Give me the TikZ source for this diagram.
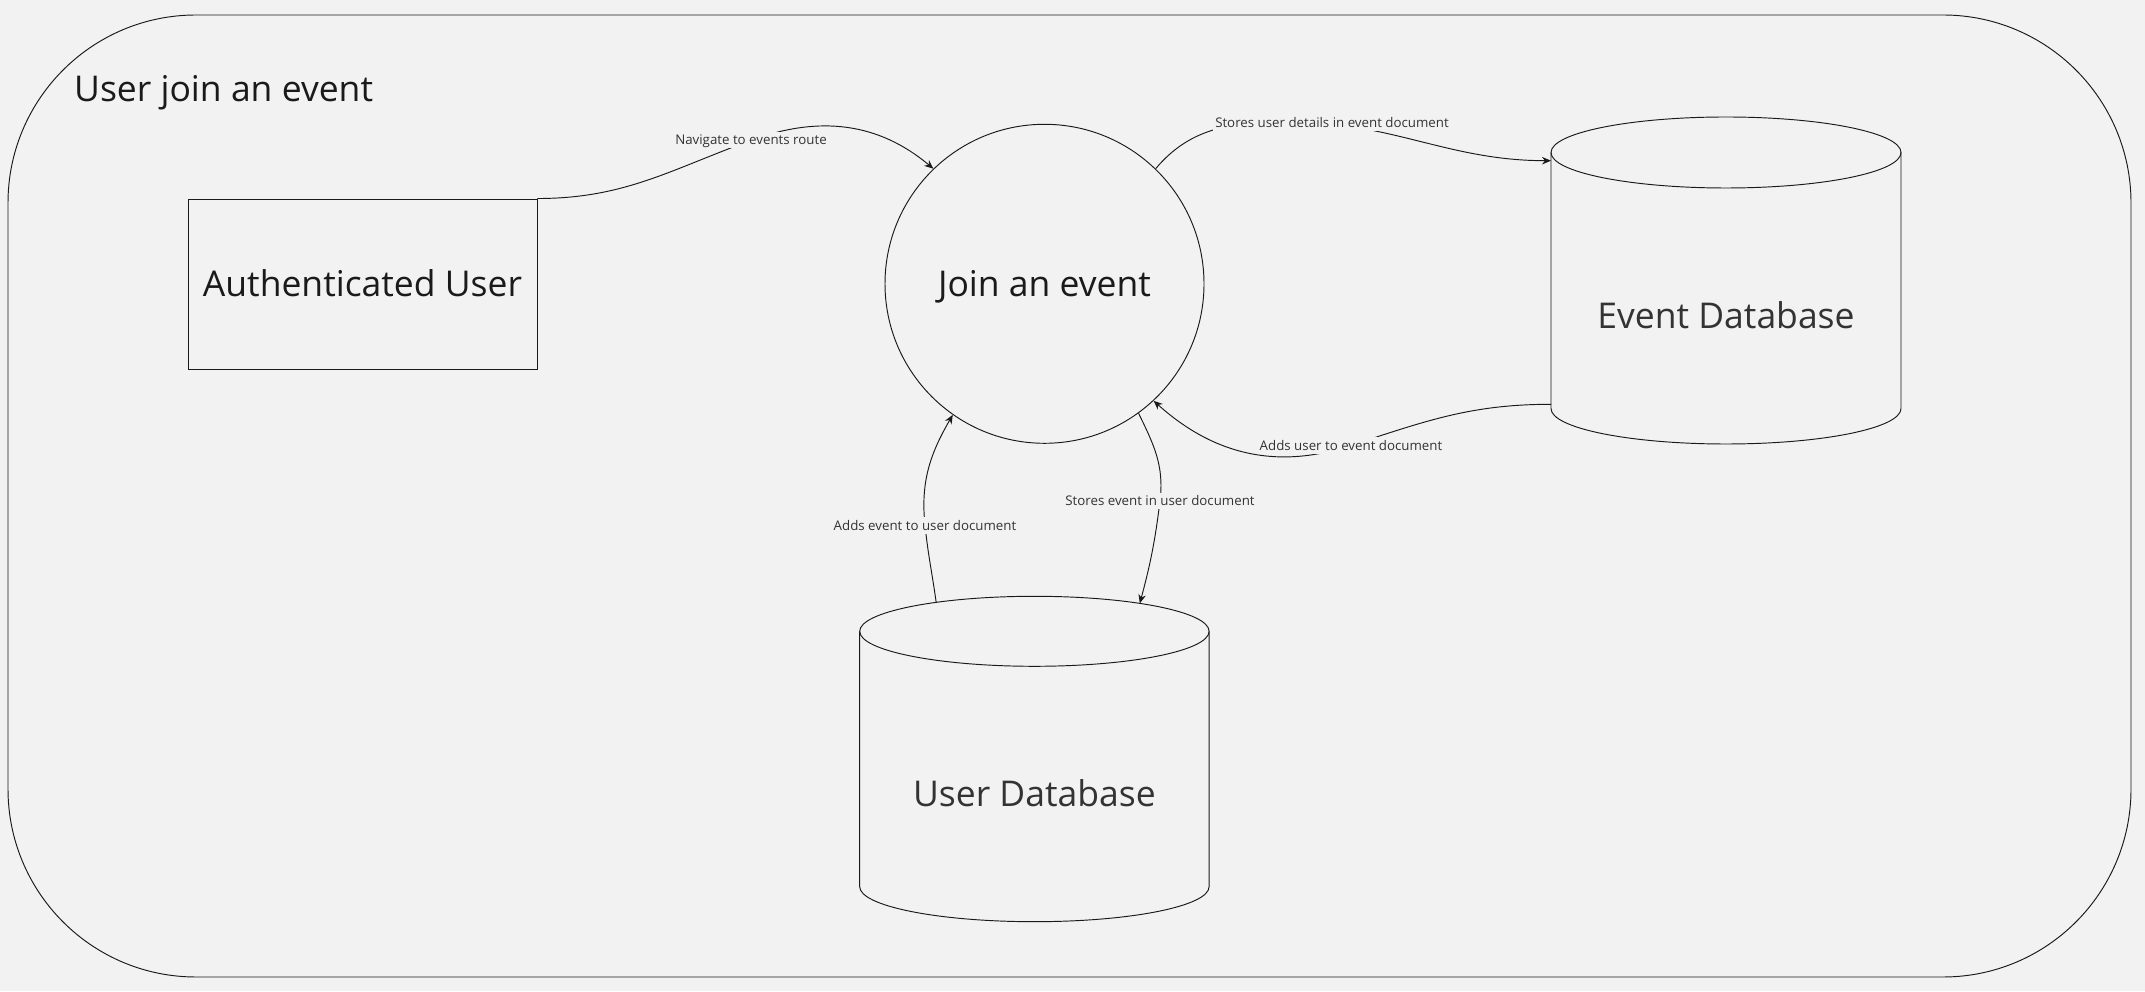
\documentclass[tikz,border=0pt]{standalone}
\usepackage{fontspec}
\setmainfont{Open Sans}
\usetikzlibrary{arrows.meta,calc}
\definecolor{bg}{HTML}{F2F2F2}
\definecolor{ink}{HTML}{1A1A1A}
\definecolor{inkb}{HTML}{333333}
\begin{document}
\begin{tikzpicture}[x=1pt,y=1pt,
  line/.style={draw=ink, line width=0.95pt},
  arr/.style={line, -{Stealth[length=9pt,width=7.5pt]}},
  lbl/.style={fill=bg, text=inkb, font=\fontsize{13.3}{16}\selectfont,
    text height=9.5pt, text depth=0pt, inner xsep=2pt, inner ysep=3.5pt},
  big/.style={font=\fontsize{35.5}{42}\selectfont, text height=25.3pt, text depth=0pt, inner sep=0pt}]
\fill[bg] (0,0) rectangle (2145,991);
\useasboundingbox (0,0) rectangle (2145,991);
% frame
\node[line, rounded corners=188pt, minimum width=2123pt, minimum height=962pt] (frame) at (1069.5,495) {};
\node[font=\fontsize{35.5}{42}\selectfont, text=ink, anchor=base west, inner sep=0pt] (title) at (74,889) {User join an event};
% process nodes
\node[line, big, text=ink, minimum width=349pt, minimum height=170pt] (A) at (362.5,707) {Authenticated User};
\node[line, big, text=ink, circle, minimum size=319pt] (J) at (1044.5,707.2) {Join an event};
% Event database
\node[big, text=inkb] (E) at (1726,675) {Event Database};
\draw[line] (1551,838.5) -- (1551,582.5) arc[start angle=180,end angle=360,x radius=175,y radius=35.5] -- (1901,838.5);
\draw[line] (1726,838.5) ellipse[x radius=175, y radius=35.5];
\coordinate (Ein) at (1551,830.3);
\coordinate (Eout) at (1551,586.7);
% User database
\node[big, text=inkb] (U) at (1034.4,197) {User Database};
\draw[line] (859.7,359.7) -- (859.7,104.3) arc[start angle=180,end angle=360,x radius=174.7,y radius=35] -- (1209.1,359.7);
\draw[line] (1034.4,359.7) ellipse[x radius=174.7, y radius=35];
\coordinate (uin) at (1139.8,387.6);
\coordinate (uout) at (936.2,388.6);
% waypoints
\coordinate (n1) at (752,851);
\coordinate (s1) at (1290,869);
\coordinate (a1) at (1349,545);
\coordinate (m1) at (1160,490.2);
\coordinate (m2) at (925,465.6);
% connectors
\draw[arr] (A.north east) to[out=0,in=200] (n1) to[out=20,in=140] (J.134);
\draw[arr] (J.46.6) to[out=50,in=180] (s1) to[out=0,in=180] (Ein);
\draw[arr] (Eout) to[out=180,in=18] (a1) to[out=198,in=-42] (J.-47.8);
\draw[arr] (J.-54) to[out=-64,in=83] (m1) to[out=-97,in=75] (uin);
\draw[arr] (uout) to[out=98,in=-84] (m2) to[out=96,in=-120] (J.-125.5);
% labels
\node[lbl] (ln) at (751,851) {Navigate to events route};
\node[lbl] (ls) at (1332,868.3) {Stores user details in event document};
\node[lbl] (la) at (1351,545.5) {Adds user to event document};
\node[lbl] (lm) at (1160,490.2) {Stores event in user document};
\node[lbl] (lu) at (925,465.6) {Adds event to user document};
\end{tikzpicture}
\end{document}
